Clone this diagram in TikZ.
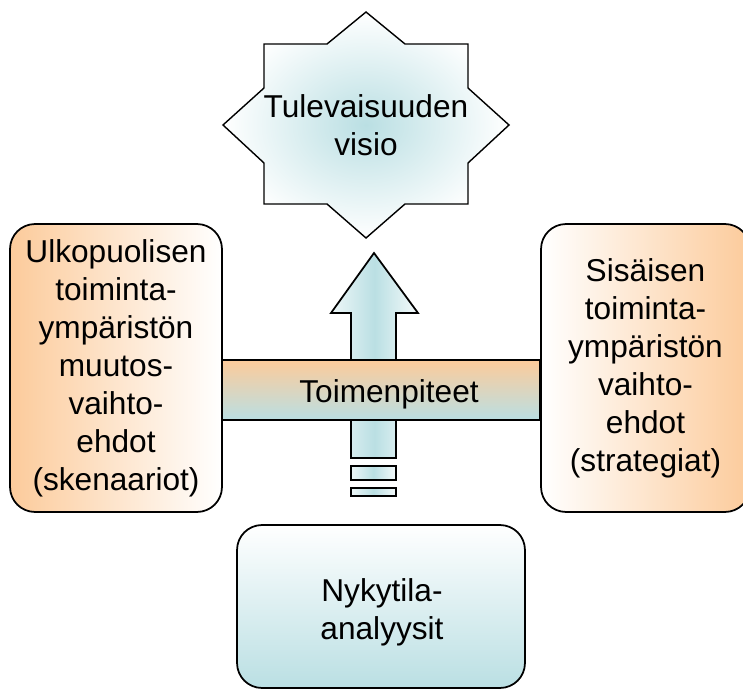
\documentclass[tikz,border=0pt]{standalone}
\usepackage{fontspec}
\setmainfont{Liberation Sans}
\usepackage{tikz}
\usetikzlibrary{positioning}
\usetikzlibrary{calc}

\definecolor{peach}{HTML}{FCCB9B}
\definecolor{aqua}{HTML}{BADFE3}

\begin{document}
\begin{tikzpicture}[x=0.02cm,y=-0.02cm,
  txt/.style={font=\fontsize{18}{21.6}\selectfont, align=center},
  box/.style={txt, draw, line width=1pt, rounded corners=0.5cm, inner sep=0pt},
  shaft/.style={draw, line width=1pt, left color=aqua!25, right color=aqua!15, middle color=aqua}]
\clip (0,0) rectangle (743,689);

% tulevaisuus
\draw[line width=0.8pt, inner color=aqua, outer color=white]
  (366,12) -- (405,44) -- (468,44) -- (468,88) -- (509,125) -- (468,163)
  -- (468,204) -- (405,204) -- (366,238) -- (327,204) -- (264,204)
  -- (264,163) -- (223,125) -- (264,88) -- (264,44) -- (327,44) -- cycle;
\node[txt] (vision) at (366,125) {Tulevaisuuden\\visio};

% nuoli
\draw[shaft] (374,253) -- (418,313) -- (396,313) -- (396,458)
  -- (351,458) -- (351,313) -- (331,313) -- cycle;
\draw[shaft] (351,466) rectangle (396,480);
\draw[shaft] (351,488) rectangle (396,496);

% toimenpiteet
\node[draw, line width=1pt, top color=peach, bottom color=aqua,
  minimum width=6.36cm, minimum height=1.2cm] (actions) at (381,390) {};
\node[txt] (actlabel) at (389,394) {Toimenpiteet};

% laatikot
\node[box, left color=peach, right color=white,
  minimum width=4.24cm, minimum height=5.76cm] (external) at (116,368)
  {Ulkopuolisen\\toiminta-\\ympäristön\\muutos-\\vaihto-\\ehdot\\(skenaariot)};
\node[box, left color=white, right color=peach,
  minimum width=4.18cm, minimum height=5.76cm] (internal) at (645.5,368)
  {Sisäisen\\toiminta-\\ympäristön\\vaihto-\\ehdot\\(strategiat)};
\node[box, top color=white, bottom color=aqua,
  minimum width=5.76cm, minimum height=3.26cm] (current) at (381,606.5) {};
\node[txt] (currentlabel) at (382,612) {Nykytila-\\analyysit};
\end{tikzpicture}
\end{document}
